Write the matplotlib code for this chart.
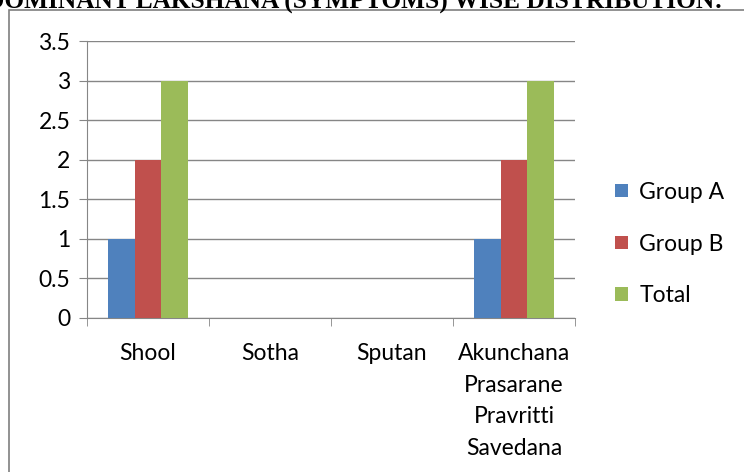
import matplotlib.pyplot as plt
import numpy as np
from matplotlib.patches import Rectangle

categories = ["Shool", "Sotha", "Sputan", "Akunchana\nPrasarane\nPravritti\nSavedana"]
group_a = [1, 0, 0, 1]
group_b = [2, 0, 0, 2]
total = [3, 0, 0, 3]
series = [("Group A", group_a, "#4F81BD"), ("Group B", group_b, "#C0504D"), ("Total", total, "#9BBB59")]

plt.rcParams['font.family'] = ['Lato', 'DejaVu Sans']
fs = 16.5

fig = plt.figure(figsize=(7.44, 4.72), dpi=100)
W, H = 744, 472

# outer chart border
fig.patches.append(Rectangle((9 / W, -0.1), 1.0, 1 - 10 / H + 0.1, transform=fig.transFigure,
                             fill=False, edgecolor="#7f7f7f", linewidth=1.2))

# clipped title at the very top
fig.text(-14 / W, 1 - 9 / H, "DOMINANT LAKSHANA (SYMPTOMS) WISE DISTRIBUTION:",
         family="Liberation Serif", fontweight="bold", fontsize=18.3, va="baseline", ha="left")

ax = fig.add_axes([87 / W, 1 - 318 / H, (575 - 87) / W, (318 - 41) / H])

x = np.arange(len(categories))
bw = 0.22
for i, (name, vals, col) in enumerate(series):
    ax.bar(x + (i - 1) * bw, vals, bw, color=col, label=name, zorder=3)

ax.set_xlim(-0.5, len(categories) - 0.5)
ax.set_ylim(0, 3.5)
ax.set_yticks(np.arange(0, 3.51, 0.5))
ax.set_yticklabels(["0", "0.5", "1", "1.5", "2", "2.5", "3", "3.5"])
ax.grid(axis="y", color="#868686", linewidth=1, zorder=0)
ax.set_xticks(x)
ax.set_xticklabels(categories, linespacing=1.62)
ax.set_xticks(np.arange(-0.5, len(categories)), minor=True)
ax.tick_params(axis="x", which="major", length=0, pad=18, labelsize=fs, colors="#000000")
ax.tick_params(axis="x", which="minor", length=6, color="#868686", direction="out")
ax.tick_params(axis="y", length=6, color="#868686", labelsize=fs, pad=6)
for s in ["top", "right"]:
    ax.spines[s].set_visible(False)
ax.spines["left"].set_color("#868686")
ax.spines["bottom"].set_color("#868686")

ax.legend(loc="center left", bbox_to_anchor=(1.04, 0.267), frameon=False, fontsize=fs,
          handlelength=0.55, handleheight=0.55, labelspacing=1.35, handletextpad=0.5)

fig.savefig("out.png", dpi=100)
